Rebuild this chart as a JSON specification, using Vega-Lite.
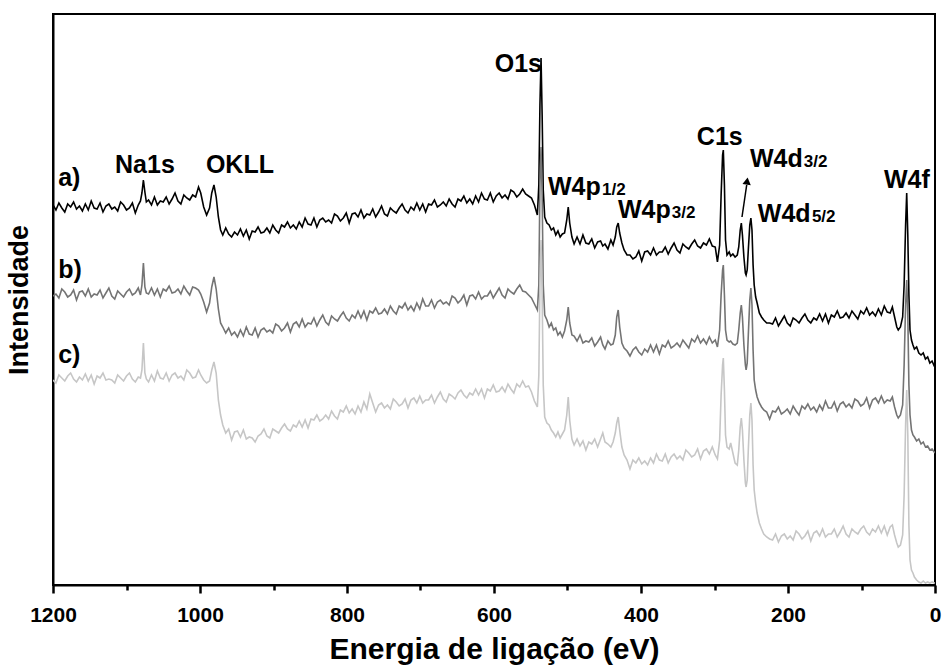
{
"$schema": "https://vega.github.io/schema/vega-lite/v6.json",
"width": 882, "height": 571,
"autosize": {"type": "none"},
"padding": {"left": 53, "top": 14, "right": 8, "bottom": 81},
"background": "white",
"config": {
"view": {"stroke": "black", "strokeWidth": 2},
"font": "Liberation Sans",
"axisY": {"labels": false, "ticks": false, "grid": false, "domainColor": "black", "domainWidth": 2,
"titleFont": "Liberation Sans", "titleFontWeight": "bold", "titleFontSize": 27, "titleColor": "black", "titlePadding": 20}
},
"resolve": {"axis": {"x": "independent"}},
"datasets": {
"spec": [
{"e":1200,"a":380,"b":289,"c":205},{"e":1196,"a":375,"b":291,"c":202},{"e":1192,"a":382,"b":287,"c":210},{"e":1188,"a":377,"b":296,"c":207},{"e":1184,"a":373,"b":293,"c":204},{"e":1180,"a":381,"b":288,"c":209},{"e":1176,"a":378,"b":290,"c":212},{"e":1172,"a":383,"b":295,"c":206},{"e":1168,"a":376,"b":285,"c":203},{"e":1164,"a":379,"b":293,"c":208},{"e":1160,"a":374,"b":294,"c":205},{"e":1156,"a":381,"b":289,"c":211},{"e":1152,"a":375,"b":296,"c":204},{"e":1148,"a":384,"b":288,"c":210},{"e":1144,"a":377,"b":291,"c":201},{"e":1140,"a":376,"b":290,"c":209},{"e":1136,"a":382,"b":295,"c":207},{"e":1132,"a":373,"b":287,"c":212},{"e":1128,"a":379,"b":292,"c":205},{"e":1124,"a":381,"b":297,"c":206},{"e":1120,"a":376,"b":289,"c":205},{"e":1116,"a":378,"b":286,"c":202},{"e":1112,"a":374,"b":294,"c":210},{"e":1108,"a":383,"b":291,"c":207},{"e":1104,"a":380,"b":288,"c":204},{"e":1100,"a":375,"b":293,"c":209},{"e":1096,"a":377,"b":296,"c":212},{"e":1092,"a":382,"b":290,"c":206},{"e":1088,"a":372,"b":292,"c":203},{"e":1084,"a":380,"b":297,"c":208},
{"e":1081,"a":384,"b":290,"c":207},{"e":1079,"a":392,"b":300,"c":215},{"e":1077,"a":405,"b":322,"c":242},{"e":1075,"a":393,"b":298,"c":212},{"e":1073,"a":383,"b":292,"c":206},
{"e":1070,"a":385,"b":291,"c":203},{"e":1066,"a":380,"b":297,"c":210},{"e":1062,"a":388,"b":290,"c":204},{"e":1058,"a":380,"b":296,"c":214},{"e":1054,"a":384,"b":288,"c":207},{"e":1050,"a":383,"b":296,"c":206},{"e":1046,"a":388,"b":294,"c":212},{"e":1042,"a":381,"b":299,"c":204},{"e":1038,"a":386,"b":292,"c":210},{"e":1034,"a":392,"b":293,"c":212},{"e":1030,"a":384,"b":296,"c":207},{"e":1026,"a":381,"b":291,"c":209},{"e":1022,"a":390,"b":299,"c":205},{"e":1018,"a":387,"b":294,"c":215},{"e":1014,"a":385,"b":290,"c":212},{"e":1010,"a":390,"b":298,"c":207},
{"e":1006,"a":388,"b":297,"c":208},{"e":1002,"a":398,"b":295,"c":215},{"e":999,"a":392,"b":291,"c":210},{"e":995,"a":378,"b":283,"c":205},{"e":991,"a":370,"b":273,"c":202},{"e":987,"a":377,"b":282,"c":204},{"e":984,"a":392,"b":298,"c":215},{"e":981,"a":400,"b":308,"c":223},{"e":978,"a":388,"b":296,"c":212},{"e":975,"a":368,"b":276,"c":185},{"e":972,"a":355,"b":262,"c":170},{"e":969,"a":350,"b":258,"c":160},
{"e":965,"a":357,"b":252,"c":152},{"e":961,"a":351,"b":257,"c":156},{"e":957,"a":348,"b":250,"c":145},{"e":953,"a":353,"b":253,"c":153},{"e":949,"a":350,"b":248,"c":154},{"e":945,"a":356,"b":255,"c":148},{"e":941,"a":349,"b":249,"c":155},{"e":937,"a":355,"b":258,"c":146},{"e":933,"a":346,"b":251,"c":148},{"e":929,"a":354,"b":250,"c":147},
{"e":925,"a":353,"b":257,"c":143},{"e":921,"a":358,"b":248,"c":149},{"e":917,"a":352,"b":255,"c":151},{"e":913,"a":353,"b":257,"c":156},{"e":909,"a":357,"b":253,"c":149},{"e":905,"a":352,"b":255,"c":147},{"e":901,"a":360,"b":252,"c":156},{"e":897,"a":355,"b":261,"c":154},{"e":893,"a":352,"b":259,"c":152},{"e":889,"a":360,"b":254,"c":157},{"e":885,"a":358,"b":257,"c":161},{"e":881,"a":363,"b":262,"c":156},{"e":877,"a":357,"b":253,"c":154},{"e":873,"a":360,"b":261,"c":160},{"e":869,"a":356,"b":263,"c":158},{"e":865,"a":363,"b":258,"c":164},{"e":861,"a":358,"b":266,"c":158},{"e":857,"a":367,"b":258,"c":165},{"e":853,"a":361,"b":262,"c":157},{"e":849,"a":360,"b":261,"c":166},{"e":845,"a":367,"b":267,"c":165},{"e":841,"a":358,"b":259,"c":170},{"e":837,"a":365,"b":265,"c":164},{"e":833,"a":367,"b":270,"c":166},{"e":829,"a":363,"b":263,"c":170},{"e":825,"a":365,"b":260,"c":166},{"e":821,"a":362,"b":269,"c":174},{"e":817,"a":371,"b":266,"c":169},{"e":813,"a":369,"b":264,"c":166},{"e":809,"a":364,"b":269,"c":175},{"e":805,"a":367,"b":273,"c":173},{"e":801,"a":372,"b":267,"c":179},
{"e":797,"a":362,"b":264,"c":172},{"e":793,"a":371,"b":270,"c":176},{"e":789,"a":372,"b":267,"c":171},{"e":785,"a":368,"b":274,"c":179},{"e":781,"a":375,"b":267,"c":173},{"e":777,"a":367,"b":274,"c":183},{"e":773,"a":371,"b":265,"c":176},{"e":769,"a":370,"b":274,"c":191},{"e":765,"a":376,"b":272,"c":182},{"e":761,"a":368,"b":277,"c":173},{"e":757,"a":373,"b":271,"c":180},{"e":753,"a":379,"b":272,"c":182},{"e":749,"a":371,"b":276,"c":177},{"e":745,"a":369,"b":271,"c":180},{"e":741,"a":377,"b":279,"c":176},{"e":737,"a":374,"b":274,"c":186},{"e":733,"a":372,"b":271,"c":183},{"e":729,"a":377,"b":279,"c":179},{"e":725,"a":381,"b":277,"c":181},{"e":721,"a":375,"b":282,"c":186},{"e":717,"a":372,"b":275,"c":177},{"e":713,"a":378,"b":279,"c":185},{"e":709,"a":375,"b":274,"c":187},{"e":705,"a":382,"b":282,"c":182},{"e":701,"a":375,"b":276,"c":189},{"e":697,"a":381,"b":286,"c":182},{"e":693,"a":373,"b":279,"c":185},{"e":689,"a":381,"b":279,"c":185},{"e":685,"a":380,"b":285,"c":190},{"e":681,"a":385,"b":277,"c":182},{"e":677,"a":378,"b":283,"c":188},{"e":673,"a":380,"b":285,"c":193},{"e":669,"a":383,"b":281,"c":186},{"e":665,"a":379,"b":283,"c":183},{"e":661,"a":386,"b":280,"c":191},{"e":657,"a":381,"b":289,"c":189},{"e":653,"a":378,"b":287,"c":186},{"e":649,"a":386,"b":282,"c":192},{"e":645,"a":384,"b":285,"c":195},{"e":641,"a":389,"b":290,"c":190},{"e":637,"a":382,"b":280,"c":187},{"e":633,"a":386,"b":289,"c":192},{"e":629,"a":381,"b":290,"c":190},{"e":625,"a":389,"b":286,"c":196},{"e":621,"a":383,"b":293,"c":190},{"e":617,"a":392,"b":286,"c":196},{"e":613,"a":386,"b":289,"c":187},{"e":609,"a":385,"b":289,"c":196},{"e":605,"a":392,"b":294,"c":194},{"e":601,"a":383,"b":287,"c":200},{"e":597,"a":389,"b":292,"c":193},{"e":593,"a":392,"b":297,"c":194},{"e":589,"a":387,"b":290,"c":198},{"e":585,"a":390,"b":287,"c":193},{"e":581,"a":386,"b":296,"c":201},{"e":577,"a":395,"b":293,"c":196},{"e":573,"a":393,"b":291,"c":192},{"e":569,"a":388,"b":296,"c":201},{"e":565,"a":391,"b":300,"c":198},{"e":561,"a":396,"b":294,"c":204},
{"e":557,"a":391,"b":293,"c":198},{"e":553,"a":389,"b":290,"c":199},{"e":549,"a":387,"b":287,"c":193},{"e":545,"a":380,"b":281,"c":184},{"e":541,"a":370,"b":275,"c":178},{"e":539,"a":400,"b":300,"c":210},{"e":537.5,"a":480,"b":400,"c":300},{"e":536,"a":527,"b":438,"c":345},{"e":534.5,"a":470,"b":390,"c":290},{"e":533,"a":395,"b":300,"c":200},{"e":531,"a":368,"b":270,"c":168},{"e":528,"a":362,"b":265,"c":162},
{"e":525,"a":360,"b":258,"c":160},{"e":522,"a":355,"b":262,"c":155},{"e":519,"a":357,"b":255,"c":152},{"e":516,"a":350,"b":257,"c":148},{"e":513,"a":354,"b":250,"c":153},{"e":510,"a":348,"b":253,"c":147},{"e":507,"a":351,"b":248,"c":151},{"e":504,"a":352,"b":254,"c":155},{"e":501,"a":365,"b":265,"c":170},{"e":499,"a":378,"b":278,"c":188},{"e":497,"a":362,"b":262,"c":165},{"e":494,"a":348,"b":250,"c":146},
{"e":491,"a":341,"b":249,"c":140},{"e":487,"a":348,"b":244,"c":146},{"e":483,"a":341,"b":250,"c":139},{"e":479,"a":350,"b":242,"c":144},{"e":475,"a":342,"b":244,"c":135},{"e":471,"a":341,"b":243,"c":143},{"e":467,"a":346,"b":247,"c":141},{"e":463,"a":337,"b":239,"c":146},{"e":459,"a":343,"b":243,"c":138},{"e":455,"a":344,"b":248,"c":146},{"e":452,"a":339,"b":240,"c":152},{"e":449,"a":341,"b":236,"c":143},{"e":445,"a":336,"b":244,"c":141},{"e":441,"a":345,"b":240,"c":138},{"e":438,"a":340,"b":241,"c":143},
{"e":435,"a":348,"b":250,"c":152},{"e":433,"a":358,"b":268,"c":162},{"e":431,"a":362,"b":275,"c":168},{"e":429,"a":352,"b":258,"c":155},{"e":426,"a":342,"b":242,"c":138},{"e":423,"a":335,"b":237,"c":130},{"e":419,"a":330,"b":234,"c":125},
{"e":415,"a":330,"b":229,"c":116},{"e":411,"a":326,"b":235,"c":125},{"e":407,"a":328,"b":238,"c":122},{"e":403,"a":334,"b":233,"c":127},{"e":399,"a":324,"b":230,"c":121},{"e":395,"a":333,"b":236,"c":124},{"e":391,"a":334,"b":233,"c":120},{"e":387,"a":330,"b":240,"c":127},{"e":383,"a":337,"b":233,"c":122},{"e":379,"a":330,"b":240,"c":131},{"e":375,"a":333,"b":231,"c":125},{"e":371,"a":333,"b":240,"c":124},{"e":367,"a":338,"b":238,"c":131},{"e":363,"a":331,"b":244,"c":122},{"e":359,"a":337,"b":237,"c":128},{"e":355,"a":342,"b":239,"c":131},{"e":351,"a":335,"b":242,"c":126},{"e":347,"a":332,"b":238,"c":129},{"e":343,"a":341,"b":245,"c":125},{"e":339,"a":338,"b":241,"c":135},{"e":335,"a":336,"b":237,"c":132},{"e":331,"a":341,"b":246,"c":128},{"e":327,"a":345,"b":243,"c":130},{"e":323,"a":339,"b":249,"c":136},{"e":319,"a":337,"b":242,"c":126},{"e":315,"a":342,"b":246,"c":134},{"e":311,"a":340,"b":241,"c":136},{"e":307,"a":346,"b":248,"c":131},{"e":303,"a":339,"b":242,"c":138},{"e":299,"a":338,"b":245,"c":130},
{"e":296,"a":323,"b":238,"c":126},{"e":293,"a":340,"b":255,"c":145},{"e":291,"a":390,"b":290,"c":190},{"e":289,"a":430,"b":315,"c":220},{"e":288,"a":435,"b":320,"c":227},{"e":286.5,"a":400,"b":290,"c":195},{"e":285,"a":345,"b":255,"c":150},{"e":283,"a":330,"b":245,"c":138},{"e":280,"a":333,"b":243,"c":136},{"e":278,"a":329,"b":244,"c":142},{"e":275,"a":331,"b":241,"c":132},{"e":272,"a":328,"b":240,"c":122},{"e":269,"a":330,"b":242,"c":120},{"e":267,"a":338,"b":255,"c":135},{"e":265,"a":355,"b":272,"c":158},{"e":263.5,"a":362,"b":280,"c":167},{"e":262,"a":350,"b":268,"c":155},{"e":260,"a":328,"b":240,"c":125},{"e":258,"a":312,"b":220,"c":102},{"e":257,"a":310,"b":215,"c":98},{"e":255.5,"a":315,"b":222,"c":105},{"e":254,"a":335,"b":250,"c":135},{"e":252,"a":360,"b":285,"c":170},{"e":250.5,"a":367,"b":297,"c":182},{"e":249,"a":355,"b":280,"c":165},{"e":247.5,"a":320,"b":235,"c":120},{"e":246,"a":300,"b":205,"c":95},{"e":244,"a":288,"b":195,"c":82},{"e":242,"a":282,"b":188,"c":72},{"e":239,"a":272,"b":182,"c":62},{"e":236,"a":268,"b":178,"c":56},{"e":233,"a":265,"b":175,"c":51},{"e":229,"a":262,"b":173,"c":48},
{"e":225,"a":262,"b":166,"c":46},{"e":221,"a":261,"b":174,"c":45},{"e":217,"a":267,"b":173,"c":51},{"e":213,"a":259,"b":178,"c":43},{"e":209,"a":264,"b":171,"c":49},{"e":205,"a":269,"b":173,"c":51},{"e":201,"a":262,"b":176,"c":46},{"e":197,"a":259,"b":171,"c":49},{"e":193,"a":267,"b":179,"c":45},{"e":189,"a":265,"b":174,"c":54},{"e":185,"a":262,"b":170,"c":51},{"e":181,"a":267,"b":179,"c":46},{"e":177,"a":271,"b":176,"c":49},{"e":173,"a":265,"b":181,"c":54},{"e":169,"a":262,"b":175,"c":44},{"e":165,"a":267,"b":178,"c":52},{"e":161,"a":265,"b":173,"c":54},{"e":157,"a":271,"b":180,"c":49},{"e":153,"a":264,"b":175,"c":56},{"e":149,"a":271,"b":184,"c":48},{"e":145,"a":262,"b":177,"c":51},{"e":141,"a":270,"b":177,"c":51},{"e":137,"a":268,"b":183,"c":56},{"e":133,"a":274,"b":174,"c":48},{"e":129,"a":267,"b":181,"c":53},{"e":125,"a":268,"b":183,"c":59},{"e":121,"a":272,"b":178,"c":51},{"e":117,"a":267,"b":181,"c":48},{"e":113,"a":274,"b":177,"c":56},{"e":109,"a":270,"b":186,"c":53},{"e":105,"a":266,"b":184,"c":51},{"e":101,"a":274,"b":179,"c":56},{"e":97,"a":271,"b":181,"c":59},{"e":93,"a":277,"b":187,"c":53},{"e":89,"a":270,"b":177,"c":50},{"e":85,"a":273,"b":185,"c":56},{"e":81,"a":269,"b":187,"c":53},{"e":77,"a":276,"b":182,"c":59},{"e":73,"a":270,"b":189,"c":52},{"e":69,"a":279,"b":182,"c":59},{"e":65,"a":273,"b":185,"c":50},{"e":61,"a":272,"b":184,"c":58},
{"e":58,"a":278,"b":188,"c":60},{"e":55,"a":268,"b":178,"c":50},{"e":52,"a":258,"b":170,"c":42},{"e":50,"a":255,"b":167,"c":38},{"e":47,"a":258,"b":170,"c":40},{"e":44,"a":268,"b":180,"c":50},{"e":42,"a":300,"b":220,"c":90},{"e":40,"a":360,"b":280,"c":160},{"e":38.5,"a":392,"b":305,"c":195},{"e":37,"a":350,"b":270,"c":150},{"e":35.5,"a":290,"b":200,"c":60},{"e":34,"a":255,"b":170,"c":25},{"e":32,"a":245,"b":155,"c":15},{"e":30,"a":240,"b":150,"c":12},{"e":28,"a":236,"b":148,"c":8},{"e":25,"a":238,"b":144,"c":5},{"e":22,"a":232,"b":146,"c":3},{"e":19,"a":230,"b":141,"c":2},{"e":16,"a":232,"b":143,"c":4},{"e":13,"a":226,"b":138,"c":2},{"e":10,"a":228,"b":139,"c":3},{"e":7,"a":222,"b":135,"c":2},{"e":4,"a":224,"b":136,"c":3},{"e":1,"a":219,"b":133,"c":2},{"e":0,"a":218,"b":132,"c":2}
],
"labels": [
{"t":"Na1s","e":1115.6,"i":412},
{"t":"OKLL","e":992,"i":412},
{"t":"O1s","e":599,"i":513},
{"t":"W4p","e":526.5,"i":390},
{"t":"W4p","e":431.3,"i":367},
{"t":"C1s","e":324,"i":440},
{"t":"W4d","e":251.7,"i":418},
{"t":"W4d","e":241,"i":363},
{"t":"W4f","e":69.4,"i":397},
{"t":"a)","e":1193,"i":399},
{"t":"b)","e":1193,"i":307},
{"t":"c)","e":1193,"i":222}
],
"subs": [
{"t":"1/2","e":453,"i":390},
{"t":"3/2","e":358,"i":367},
{"t":"3/2","e":178.5,"i":418},
{"t":"5/2","e":167.5,"i":363}
],
"arrow": [{"e1":262.6,"i1":368,"e2":256.2,"i2":400}],
"head": [{"e":255.6,"i":404}]
},
"layer": [
{
"data": {"name": "spec"},
"transform": [{"fold": ["a", "b", "c"], "as": ["serie", "int"]}],
"mark": {"type": "line", "strokeWidth": 1.6, "clip": true},
"encoding": {
"x": {"field": "e", "type": "quantitative",
"scale": {"domain": [0, 1200], "reverse": true, "nice": false, "zero": false},
"axis": {"values": [0, 200, 400, 600, 800, 1000, 1200], "format": "d", "orient": "bottom",
"grid": false, "tickSize": 8, "tickWidth": 2.5, "tickColor": "black",
"domainColor": "black", "domainWidth": 2,
"labelFont": "Liberation Sans", "labelFontWeight": "bold", "labelFontSize": 21, "labelColor": "black",
"labelPadding": 11, "labelFlush": false, "labelOverlap": false,
"title": "Energia de ligação (eV)", "titleFont": "Liberation Sans", "titleFontWeight": "bold",
"titleFontSize": 30, "titleColor": "black", "titlePadding": 9}},
"y": {"field": "int", "type": "quantitative", "title": "Intensidade",
"scale": {"domain": [0, 571], "nice": false, "zero": false}},
"color": {"field": "serie", "type": "nominal",
"scale": {"domain": ["a", "b", "c"], "range": ["#000000", "#747474", "#c6c6c6"]}, "legend": null}
}
},
{
"data": {"name": "labels"},
"mark": {"type": "text", "align": "left", "baseline": "alphabetic", "font": "Liberation Sans", "fontWeight": "bold", "fontSize": 25, "color": "black"},
"encoding": {
"x": {"field": "e", "type": "quantitative",
"axis": {"values": [100, 300, 500, 700, 900, 1100], "orient": "bottom", "labels": false, "title": null,
"grid": false, "domain": false, "tickSize": 5, "tickWidth": 2.5, "tickColor": "black"}},
"y": {"field": "i", "type": "quantitative", "title": "Intensidade"},
"text": {"field": "t"}
}
},
{
"data": {"name": "subs"},
"mark": {"type": "text", "align": "left", "baseline": "alphabetic", "font": "Liberation Sans", "fontWeight": "bold", "fontSize": 17, "color": "black"},
"encoding": {
"x": {"field": "e", "type": "quantitative", "axis": null},
"y": {"field": "i", "type": "quantitative", "title": "Intensidade"},
"text": {"field": "t"}
}
},
{
"data": {"name": "arrow"},
"mark": {"type": "rule", "strokeWidth": 1.5, "color": "black"},
"encoding": {
"x": {"field": "e1", "type": "quantitative", "axis": null},
"y": {"field": "i1", "type": "quantitative", "title": "Intensidade"},
"x2": {"field": "e2"},
"y2": {"field": "i2"}
}
},
{
"data": {"name": "head"},
"mark": {"type": "point", "shape": "triangle-up", "filled": true, "size": 70, "angle": 8, "color": "black", "opacity": 1},
"encoding": {
"x": {"field": "e", "type": "quantitative", "axis": null},
"y": {"field": "i", "type": "quantitative", "title": "Intensidade"}
}
}
]
}
